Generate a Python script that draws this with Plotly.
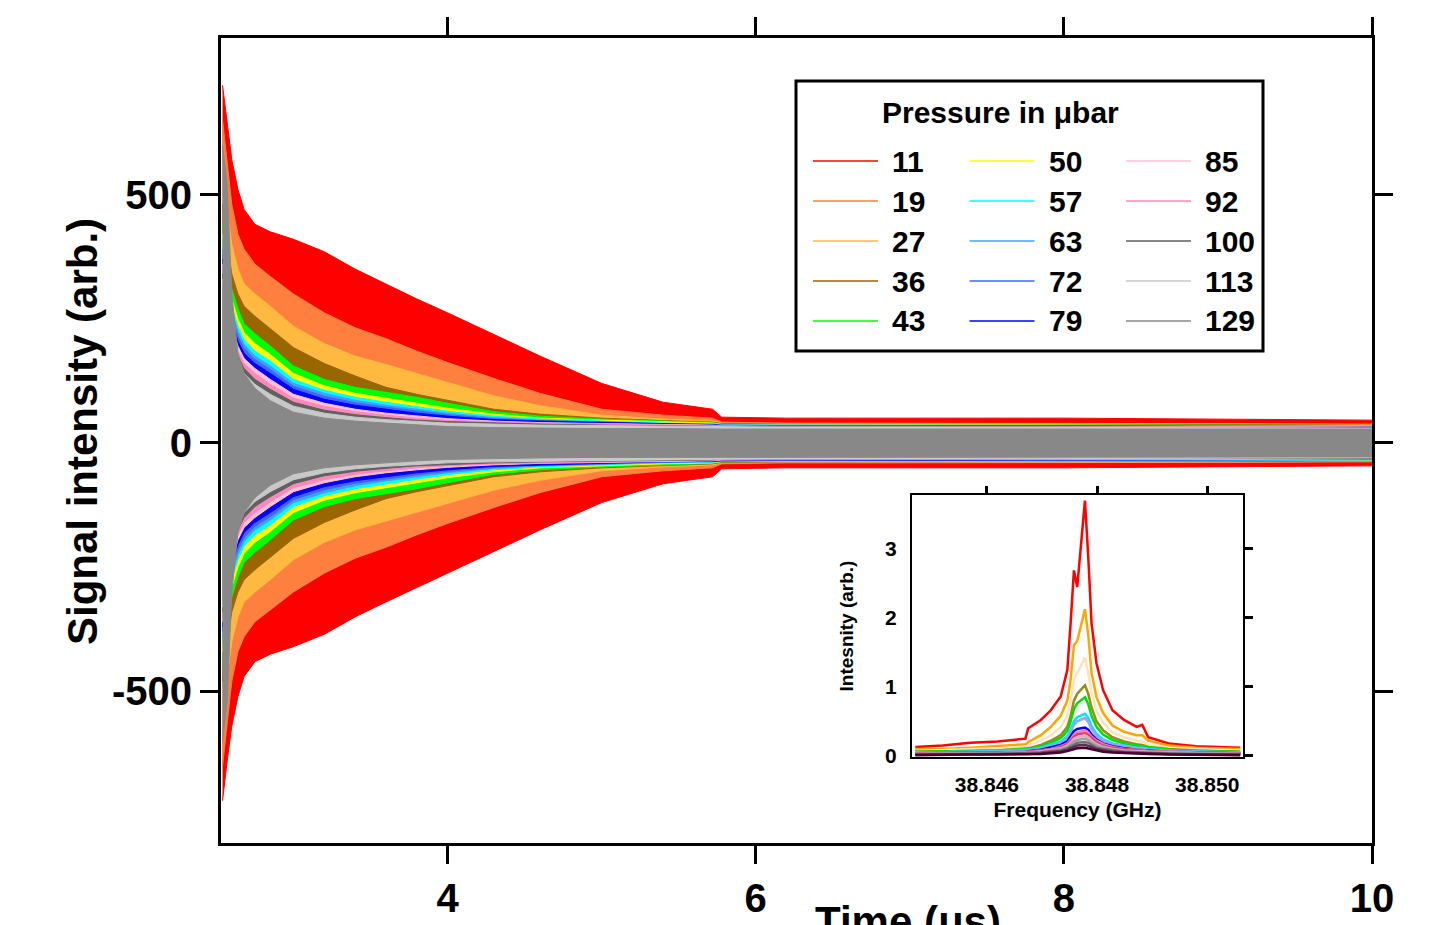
import plotly.graph_objects as go

# pressures (ubar) and colours used for each trace
pressures = [11, 19, 27, 36, 43, 50, 57, 63, 72, 79, 85, 92, 100, 113, 129]
fid_colors = ['#ff0000', '#ff7f3f', '#ffb840', '#996600', '#00ff00',
              '#ffff00', '#00ffff', '#40a0ff', '#4066ff', '#0000ff',
              '#ffc0d8', '#ff88bb', '#606060', '#c8c8c8', '#888888']
inset_colors = ['#ff0000', '#ffa500', '#ffe2b8', '#9a8a1e', '#00e000',
                '#00e5ff', '#8fa8ff', '#0000ff', '#ff7fb0', '#e0407a',
                '#d8b0c8', '#a0a0a0', '#707070', '#5a3050', '#4a0030']

# time axis (us) of the free induction decay envelopes
t_us = [2.54, 2.57, 2.60, 2.64, 2.68, 2.75, 2.85, 3.0, 3.2, 3.4, 3.6, 3.8,
        4.0, 4.3, 4.6, 5.0, 5.4, 5.72, 5.78, 6.2, 7.0, 8.0, 9.0, 10.0]

# half amplitude of the decaying signal (arb.), one list per pressure
env_11 = [720, 640, 570, 510, 470, 440, 425, 410, 385, 350, 320, 290, 262, 218, 175, 120, 82, 68, 52, 50, 50, 50, 48, 46]
env_19 = [650, 560, 480, 420, 390, 360, 335, 300, 262, 232, 210, 185, 162, 130, 100, 68, 56, 50, 42, 40, 40, 40, 39, 38]
env_27 = [560, 470, 400, 350, 320, 300, 275, 235, 200, 175, 158, 140, 122, 95, 75, 56, 48, 44, 40, 39, 39, 39, 38, 37]
env_36 = [480, 400, 340, 300, 275, 255, 230, 192, 160, 135, 112, 98, 86, 68, 58, 50, 45, 42, 39, 38, 38, 38, 37, 36]
env_43 = [440, 370, 310, 270, 240, 220, 195, 155, 128, 112, 102, 92, 80, 63, 54, 48, 44, 41, 38, 37, 37, 37, 36, 35]
env_50 = [420, 350, 290, 250, 222, 200, 178, 140, 115, 100, 90, 80, 70, 58, 50, 46, 42, 40, 37, 37, 37, 36, 35, 35]
env_57 = [400, 330, 275, 235, 208, 185, 165, 128, 106, 92, 82, 73, 64, 54, 48, 44, 40, 39, 37, 36, 36, 36, 35, 34]
env_63 = [390, 320, 265, 225, 198, 175, 155, 120, 100, 86, 76, 68, 60, 51, 46, 43, 39, 38, 36, 36, 36, 35, 34, 34]
env_72 = [380, 310, 255, 215, 190, 168, 148, 114, 94, 81, 72, 64, 57, 49, 45, 42, 38, 37, 36, 35, 35, 35, 34, 33]
env_79 = [370, 300, 245, 205, 180, 160, 140, 108, 88, 76, 68, 60, 54, 47, 44, 41, 38, 37, 35, 35, 35, 34, 33, 33]
env_85 = [360, 290, 235, 195, 170, 150, 128, 98, 80, 68, 60, 54, 49, 44, 41, 39, 37, 36, 34, 34, 34, 33, 33, 32]
env_92 = [350, 280, 225, 185, 160, 140, 118, 90, 74, 63, 56, 50, 46, 42, 40, 38, 36, 35, 34, 33, 33, 33, 32, 32]
env_100 = [340, 270, 215, 175, 150, 128, 108, 82, 66, 57, 51, 46, 43, 40, 38, 36, 35, 34, 33, 32, 32, 32, 31, 31]
env_113 = [330, 260, 205, 165, 140, 118, 98, 74, 60, 52, 47, 43, 40, 38, 36, 35, 34, 33, 32, 32, 32, 31, 31, 30]
env_129 = [600, 520, 300, 180, 140, 110, 85, 62, 50, 44, 40, 36, 33, 31, 30, 29, 29, 28, 28, 28, 28, 28, 28, 28]

# inset: spectra (frequency in GHz, intensity arb.)
freq_ghz = [38.8447, 38.8452, 38.8457, 38.8462, 38.8467, 38.84675, 38.84698,
            38.84716, 38.84734, 38.84746, 38.84752, 38.84758, 38.84764,
            38.84778, 38.84784, 38.84790, 38.84799, 38.84811, 38.84828,
            38.84849, 38.84872, 38.84882, 38.84893, 38.8493, 38.8498, 38.8506]
spec_11 = [0.13, 0.15, 0.19, 0.21, 0.25, 0.40, 0.52, 0.66, 0.86, 1.24, 1.92, 2.68, 2.44, 3.69, 2.88, 1.92, 1.34, 0.95, 0.66, 0.52, 0.42, 0.45, 0.27, 0.18, 0.14, 0.12]
spec_19 = [0.10, 0.10, 0.12, 0.14, 0.17, 0.20, 0.30, 0.42, 0.58, 0.80, 1.10, 1.60, 1.66, 2.12, 1.75, 1.20, 0.85, 0.62, 0.44, 0.35, 0.30, 0.30, 0.22, 0.15, 0.12, 0.10]
spec_27 = [0.07, 0.08, 0.09, 0.11, 0.13, 0.15, 0.22, 0.30, 0.42, 0.58, 0.80, 1.10, 1.20, 1.42, 1.20, 0.90, 0.65, 0.48, 0.34, 0.27, 0.22, 0.21, 0.17, 0.12, 0.10, 0.08]
spec_36 = [0.06, 0.06, 0.07, 0.08, 0.10, 0.11, 0.16, 0.22, 0.30, 0.42, 0.58, 0.80, 0.90, 1.02, 0.90, 0.70, 0.50, 0.37, 0.27, 0.21, 0.17, 0.16, 0.13, 0.10, 0.08, 0.06]
spec_43 = [0.06, 0.06, 0.07, 0.08, 0.09, 0.10, 0.14, 0.19, 0.26, 0.36, 0.50, 0.68, 0.76, 0.85, 0.75, 0.58, 0.42, 0.31, 0.23, 0.18, 0.15, 0.14, 0.12, 0.09, 0.07, 0.06]
spec_50 = [0.05, 0.05, 0.06, 0.07, 0.08, 0.09, 0.12, 0.16, 0.21, 0.28, 0.38, 0.50, 0.56, 0.61, 0.55, 0.43, 0.32, 0.24, 0.18, 0.15, 0.12, 0.12, 0.10, 0.08, 0.06, 0.05]
spec_57 = [0.05, 0.05, 0.06, 0.06, 0.07, 0.08, 0.11, 0.14, 0.19, 0.25, 0.34, 0.45, 0.50, 0.55, 0.49, 0.39, 0.29, 0.22, 0.17, 0.14, 0.11, 0.11, 0.09, 0.07, 0.06, 0.05]
spec_63 = [0.04, 0.04, 0.05, 0.05, 0.06, 0.07, 0.09, 0.12, 0.16, 0.21, 0.28, 0.36, 0.39, 0.41, 0.38, 0.31, 0.24, 0.18, 0.14, 0.11, 0.09, 0.09, 0.08, 0.06, 0.05, 0.04]
spec_72 = [0.04, 0.04, 0.05, 0.05, 0.06, 0.06, 0.08, 0.10, 0.14, 0.18, 0.24, 0.31, 0.34, 0.37, 0.34, 0.28, 0.22, 0.17, 0.13, 0.10, 0.09, 0.09, 0.07, 0.06, 0.05, 0.04]
spec_79 = [0.04, 0.04, 0.04, 0.05, 0.05, 0.06, 0.08, 0.10, 0.13, 0.17, 0.22, 0.28, 0.31, 0.33, 0.31, 0.26, 0.20, 0.15, 0.12, 0.10, 0.08, 0.08, 0.07, 0.05, 0.04, 0.04]
spec_85 = [0.03, 0.03, 0.04, 0.04, 0.05, 0.05, 0.07, 0.09, 0.11, 0.15, 0.19, 0.25, 0.27, 0.29, 0.27, 0.22, 0.17, 0.13, 0.10, 0.08, 0.07, 0.07, 0.06, 0.05, 0.04, 0.03]
spec_92 = [0.03, 0.03, 0.04, 0.04, 0.04, 0.05, 0.06, 0.08, 0.10, 0.13, 0.17, 0.21, 0.23, 0.25, 0.23, 0.19, 0.15, 0.12, 0.09, 0.07, 0.06, 0.06, 0.05, 0.04, 0.04, 0.03]
spec_100 = [0.02, 0.03, 0.03, 0.03, 0.04, 0.04, 0.05, 0.07, 0.08, 0.11, 0.14, 0.17, 0.19, 0.20, 0.19, 0.16, 0.12, 0.10, 0.08, 0.06, 0.05, 0.05, 0.04, 0.04, 0.03, 0.02]
spec_113 = [0.02, 0.02, 0.03, 0.03, 0.03, 0.03, 0.04, 0.05, 0.07, 0.09, 0.11, 0.14, 0.15, 0.16, 0.15, 0.13, 0.10, 0.08, 0.06, 0.05, 0.04, 0.04, 0.04, 0.03, 0.03, 0.02]
spec_129 = [0.01, 0.02, 0.02, 0.02, 0.02, 0.03, 0.03, 0.04, 0.05, 0.07, 0.08, 0.10, 0.11, 0.12, 0.11, 0.10, 0.08, 0.06, 0.05, 0.04, 0.03, 0.03, 0.03, 0.02, 0.02, 0.01]

envelopes = [env_11, env_19, env_27, env_36, env_43, env_50, env_57, env_63,
             env_72, env_79, env_85, env_92, env_100, env_113, env_129]
spectra = [spec_11, spec_19, spec_27, spec_36, spec_43, spec_50, spec_57, spec_63,
           spec_72, spec_79, spec_85, spec_92, spec_100, spec_113, spec_129]

FONT = 'Liberation Sans, Arial, sans-serif'

# page pixel -> paper helpers (plot area 221..1372 x 38..843 on the page)
def px_x(px):
    return (px - 221) / 1151.0

def px_y(py):
    return (843 - py) / 805.0


fig = go.Figure()

# FID: largest envelope first, smaller ones on top
for p, c, env in zip(pressures, fid_colors, envelopes):
    fig.add_trace(go.Scatter(
        x=t_us + t_us[::-1],
        y=env + [-v for v in env[::-1]],
        fill='toself', fillcolor=c, mode='lines',
        line=dict(color=c, width=1),
        name=str(p), showlegend=False, hoverinfo='skip',
    ))

# inset spectra
for p, c, s in zip(pressures, inset_colors, spectra):
    fig.add_trace(go.Scatter(
        x=freq_ghz, y=s, mode='lines', line=dict(color=c, width=2.5),
        xaxis='x2', yaxis='y2', name=str(p), showlegend=False,
    ))

# dummy trace so the mirrored inset tick axes get drawn
fig.add_trace(go.Scatter(x=[None], y=[None], xaxis='x3', yaxis='y3',
                         showlegend=False, hoverinfo='skip'))

shapes = []
annotations = []

# legend drawn by hand: 3 columns of 5
shapes.append(dict(type='rect', xref='paper', yref='paper',
                   x0=px_x(796), x1=px_x(1263), y0=px_y(351), y1=px_y(81),
                   line=dict(color='black', width=3), fillcolor='white'))
annotations.append(dict(text='Pressure in μbar', xref='paper', yref='paper',
                        x=px_x(1000), y=px_y(113), showarrow=False,
                        xanchor='center', yanchor='middle',
                        font=dict(family=FONT, size=30, color='black', weight='bold')))
for i, (p, c) in enumerate(zip(pressures, fid_colors)):
    col, row = i // 5, i % 5
    ly = 161 + row * 40
    lx = 813 + col * 156.5
    shapes.append(dict(type='line', xref='paper', yref='paper',
                       x0=px_x(lx), x1=px_x(lx + 65), y0=px_y(ly), y1=px_y(ly),
                       line=dict(color=c, width=1.5)))
    annotations.append(dict(text=str(p), xref='paper', yref='paper',
                            x=px_x(lx + 77), y=px_y(ly), showarrow=False,
                            xanchor='left', yanchor='middle',
                            font=dict(family=FONT, size=30, color='black', weight='bold')))

# axis titles of the main plot
annotations.append(dict(text='Signal intensity (arb.)', xref='paper', yref='paper',
                        x=px_x(82), y=px_y(432), textangle=-90, showarrow=False,
                        xanchor='center', yanchor='middle',
                        font=dict(family=FONT, size=42, color='black', weight='bold')))
annotations.append(dict(text='Time (μs)', xref='paper', yref='paper',
                        x=px_x(908), y=px_y(896), showarrow=False,
                        xanchor='center', yanchor='top',
                        font=dict(family=FONT, size=42, color='black', weight='bold')))

tick_font = dict(family=FONT, size=40, color='black', weight='bold')
inset_font = dict(family=FONT, size=21, color='black', weight='bold')

# the page body adds an 8 px offset, so margins are shifted by 8 px
fig.update_layout(
    width=1433, height=925,
    margin=dict(l=213, r=69, t=30, b=90),
    paper_bgcolor='white', plot_bgcolor='white',
    showlegend=False,
    shapes=shapes, annotations=annotations,
    xaxis=dict(range=[2.53, 10.0], tickvals=[4, 6, 8, 10], ticktext=['4', '6', '8', '10'],
               showgrid=False, zeroline=False, showline=True, linecolor='black', linewidth=3,
               mirror='ticks', ticks='outside', ticklen=18, tickwidth=3, tickcolor='black',
               tickfont=tick_font, ticklabelstandoff=0, automargin=False),
    yaxis=dict(range=[-805, 815], tickvals=[-500, 0, 500], ticktext=['-500', '0', '500'],
               showgrid=False, zeroline=False, showline=True, linecolor='black', linewidth=3,
               mirror='ticks', ticks='outside', ticklen=18, tickwidth=3, tickcolor='black',
               tickfont=tick_font, automargin=False),
    xaxis2=dict(domain=[px_x(912), px_x(1243)], anchor='y2',
                range=[38.84464, 38.85065], tickvals=[38.846, 38.848, 38.850],
                ticktext=['38.846', '38.848', '38.850'],
                showgrid=False, zeroline=False, showline=True, linecolor='black',
                linewidth=2, mirror=True, ticks='', tickfont=inset_font,
                ticklabelstandoff=8, automargin=False,
                title=dict(text='Frequency (GHz)', font=inset_font, standoff=7)),
    yaxis2=dict(domain=[px_y(757), px_y(495)], anchor='x2',
                range=[-0.015, 3.77], tickvals=[0, 1, 2, 3],
                showgrid=False, zeroline=False, showline=True, linecolor='black',
                linewidth=2, mirror=True, ticks='', tickfont=inset_font,
                ticklabelstandoff=9, automargin=False,
                title=dict(text='Intesnity (arb.)', standoff=26,
                           font=dict(family=FONT, size=19, color='black', weight='bold'))),
    xaxis3=dict(overlaying='x2', anchor='y2', side='top', matches='x2',
                range=[38.84464, 38.85065], tickvals=[38.846, 38.848, 38.850],
                showgrid=False, zeroline=False, showline=False, showticklabels=False,
                ticks='outside', ticklen=8, tickwidth=2.5, tickcolor='black', automargin=False),
    yaxis3=dict(overlaying='y2', anchor='x2', side='right', matches='y2',
                range=[-0.015, 3.77], tickvals=[0, 1, 2, 3],
                showgrid=False, zeroline=False, showline=False, showticklabels=False,
                ticks='outside', ticklen=9, tickwidth=2.5, tickcolor='black', automargin=False),
)

fig.write_html("out.html")
